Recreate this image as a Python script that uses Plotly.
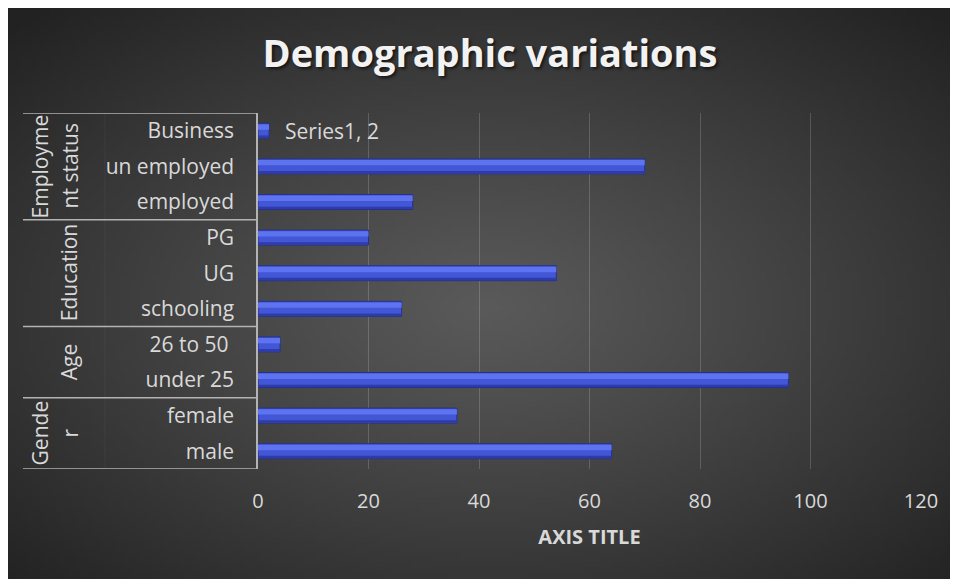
import base64
import struct
import zlib

import numpy as np
import plotly.graph_objects as go

# ---------------- data ----------------
series_name = "Series1"
categories = ["male", "female", "under 25", "26 to 50 ", "schooling", "UG", "PG",
              "employed", "un employed", "Business"]
values = [64, 36, 96, 4, 26, 54, 20, 28, 70, 2]
group_labels = ["Gende<br>r", "Age", "Education", "Employme<br>nt status"]
group_sizes = [2, 2, 3, 3]
x_ticks = [0, 20, 40, 60, 80, 100, 120]

# ---------------- style ----------------
# page body has an 8px margin, so the figure is 950x571 to fill the window
OFF = 8
W, H = 950, 571
ML, MR, MT, MB = 250, 37, 105, 110
PW = W - ML - MR
PH = H - MT - MB
TXT = "#d9d9d9"
LINE = "#b3b3b3"
FONT = "Open Sans"


def px_to_paper_x(px):  # px in screen coords
    return (px - OFF - ML) / PW


# radial gradient background as PNG data uri
gw, gh = 190, 114
yy, xx = np.mgrid[0:gh, 0:gw]
cx, cy = gw * 0.50, gh * 0.52
t = np.sqrt(((xx - cx) / (gw / 2)) ** 2 + ((yy - cy) / (gh / 2)) ** 2) / np.sqrt(2)
t = np.clip(t, 0, 1)
c = (90 - 56 * t ** 1.1).astype(np.uint8)
img = np.stack([c, c, c], axis=-1)
raw = b"".join(b"\x00" + img[r].tobytes() for r in range(gh))


def chunk(tag, data):
    return struct.pack(">I", len(data)) + tag + data + struct.pack(">I", zlib.crc32(tag + data) & 0xffffffff)


png = b"\x89PNG\r\n\x1a\n" + chunk(b"IHDR", struct.pack(">IIBBBBB", gw, gh, 8, 2, 0, 0, 0)) \
    + chunk(b"IDAT", zlib.compress(raw, 9)) + chunk(b"IEND", b"")
bg_uri = "data:image/png;base64," + base64.b64encode(png).decode()

fig = go.Figure()

# main bar body
fig.add_trace(go.Bar(
    y=categories, x=values, orientation="h", name=series_name,
    width=0.42, marker=dict(color="#4256d6", line=dict(color="#26318c", width=1)),
    hoverinfo="x+y",
))
# upper highlight
fig.add_trace(go.Bar(
    y=categories, x=values, orientation="h", showlegend=False,
    width=0.15, offset=0.03, marker=dict(color="#5d73f0", line=dict(width=0)),
    hoverinfo="skip",
))
# lower shade
fig.add_trace(go.Bar(
    y=categories, x=values, orientation="h", showlegend=False,
    width=0.07, offset=-0.2, marker=dict(color="#2e3cab", line=dict(width=0)),
    hoverinfo="skip",
))

shapes = []
bounds = [-0.5]
for s in group_sizes:
    bounds.append(bounds[-1] + s)
for b in bounds:
    shapes.append(dict(type="line", xref="paper", yref="y",
                       x0=px_to_paper_x(23), x1=0, y0=b, y1=b,
                       line=dict(color=LINE, width=1.5)))
shapes.append(dict(type="line", xref="paper", yref="y",
                   x0=px_to_paper_x(105), x1=px_to_paper_x(105), y0=-0.5, y1=bounds[-1],
                   line=dict(color="rgba(255,255,255,0.05)", width=1)))

annotations = []
start = 0
for lab, s in zip(group_labels, group_sizes):
    mid = start + (s - 1) / 2
    lines = lab.split("<br>")
    xs = [40, 70] if len(lines) == 2 else [69]
    for ln, xpx in zip(lines, xs):
        annotations.append(dict(
            text=ln, xref="paper", yref="y", x=px_to_paper_x(xpx), y=mid,
            textangle=-90, showarrow=False, xanchor="center", yanchor="middle",
            font=dict(family=FONT, size=21, color=TXT), align="center",
        ))
    start += s

annotations.append(dict(
    text=f"{series_name}, {values[-1]}", x=values[-1], y=categories[-1],
    xref="x", yref="y", xanchor="left", yanchor="middle", xshift=14,
    showarrow=False, font=dict(family=FONT, size=21, color=TXT),
))

fig.update_layout(
    width=W, height=H, autosize=False,
    margin=dict(l=ML, r=MR, t=MT, b=MB, pad=0),
    paper_bgcolor="#2a2a2a", plot_bgcolor="rgba(0,0,0,0)",
    barmode="overlay", showlegend=False,
    images=[dict(source=bg_uri, xref="paper", yref="paper",
                 x=-ML / PW, y=1 + MT / PH, sizex=W / PW, sizey=H / PH,
                 xanchor="left", yanchor="top", sizing="stretch", layer="below")],
    title=dict(text="<b>Demographic variations</b>", xref="container", yref="container",
               x=(490 - OFF) / W, y=1 - 46 / H, xanchor="center", yanchor="middle",
               font=dict(family=FONT, size=38, color="#f2f2f2",
                         shadow="2px 2px 3px rgba(0,0,0,0.6)")),
    shapes=shapes, annotations=annotations,
    xaxis=dict(range=[0, 120], tickvals=x_ticks, showgrid=True,
               gridcolor="rgba(255,255,255,0.17)", gridwidth=1, zeroline=False,
               showline=False, ticks="outside", ticklen=14, tickcolor="rgba(0,0,0,0)",
               tickfont=dict(family=FONT, size=20, color=TXT),
               title=dict(text="<b>AXIS TITLE</b>", standoff=16,
                          font=dict(family=FONT, size=20, color=TXT))),
    yaxis=dict(type="category", categoryorder="array", categoryarray=categories,
               range=[-0.5, len(categories) - 0.5], showgrid=False, zeroline=False,
               showline=True, linecolor=LINE, linewidth=1.5,
               ticks="outside", ticklen=18, tickcolor="rgba(0,0,0,0)",
               tickfont=dict(family=FONT, size=21, color=TXT)),
)

fig.write_html("out.html")
